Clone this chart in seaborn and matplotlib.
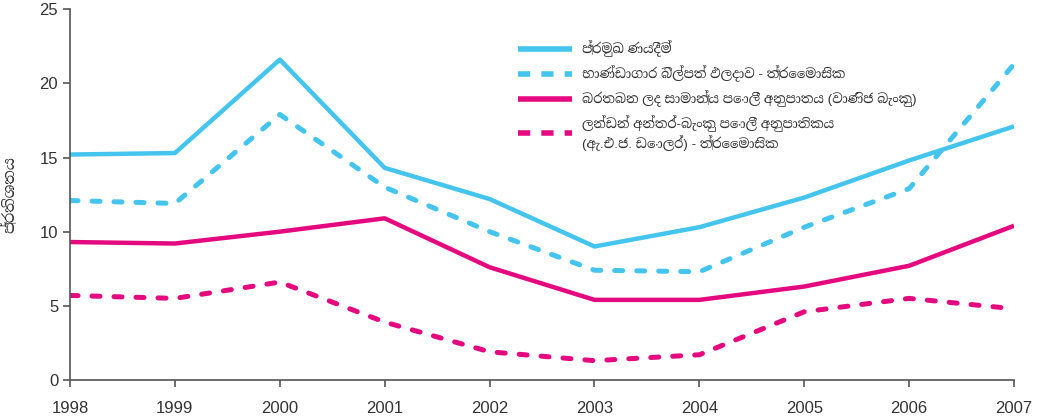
import matplotlib
matplotlib.use("Agg")
import matplotlib.pyplot as plt
import matplotlib.font_manager as fm
import pandas as pd
import seaborn as sns

# 데이터
years = [1998, 1999, 2000, 2001, 2002, 2003, 2004, 2005, 2006, 2007]
prime_lending = [15.2, 15.3, 21.6, 14.3, 12.2, 9.0, 10.3, 12.3, 14.8, 17.1]
tbill_yield = [12.1, 11.9, 17.9, 13.0, 10.0, 7.4, 7.3, 10.3, 12.9, 21.3]
awpr = [9.3, 9.2, 10.0, 10.9, 7.6, 5.4, 5.4, 6.3, 7.7, 10.4]
libor = [5.7, 5.5, 6.6, 3.9, 1.9, 1.3, 1.7, 4.6, 5.5, 4.8]

series_labels = [
    "ප්‍රමුඛ ණයදීම්",
    "භාණ්ඩාගාර බිල්පත් ඵලදාව - ත්‍රෛමාසික",
    "බරතබන ලද සාමාන්‍ය පොලී අනුපාතය (වාණිජ බැංකු)",
    "ලන්ඩන් අන්තර්-බැංකු පොලී අනුපාතිකය\n(ඇ.එ.ජ. ඩොලර්) - ත්‍රෛමාසික",
]
y_label = "ප්‍රතිශතය"

CYAN = "#45C4EE"
MAGENTA = "#E5097F"


def set_config():
    sns.set_theme(style="white")
    families = ["Liberation Sans", "DejaVu Sans"]
    # 싱할라 폰트가 있으면 사용
    for path in fm.findSystemFonts(fontpaths=None, fontext="ttf"):
        if "sinhala" in path.lower():
            try:
                name = fm.FontProperties(fname=path).get_name()
                fm.fontManager.addfont(path)
                families.insert(1, name)
                break
            except Exception:
                pass
    plt.rcParams["font.family"] = families


def style_line(line, dashed, lw=3.0, dash=(1.6, 2.8)):
    if dashed:
        line.set_linewidth(lw + 0.6)
        line.set_dashes(dash)
        line.set_dash_capstyle("butt" if dash[0] > 2 else "round")
    else:
        line.set_linewidth(lw + 0.2)


def main():
    set_config()
    df = pd.DataFrame({
        "year": years * 4,
        "value": prime_lending + tbill_yield + awpr + libor,
        "series": sum([[lab] * len(years) for lab in series_labels], []),
    })

    fig = plt.figure(figsize=(10.39, 4.18), dpi=100)
    ax = fig.add_axes([0.0674, 0.091, 0.9086, 0.887])
    sns.lineplot(
        data=df, x="year", y="value", hue="series", style="series",
        palette=[CYAN, CYAN, MAGENTA, MAGENTA],
        dashes=[(1, 0), (3, 2), (1, 0), (3, 2)],
        linewidth=3.0, ax=ax,
    )
    for i, line in enumerate(ax.get_lines()[:4]):
        style_line(line, i % 2 == 1)

    ax.set_xlim(1998, 2007)
    ax.set_ylim(0, 25)
    ax.set_xticks(years)
    ax.set_yticks([0, 5, 10, 15, 20, 25])
    ax.set_xlabel("")
    ax.set_ylabel(y_label, fontsize=11, color="#333333", labelpad=16)
    for side in ["top", "right"]:
        ax.spines[side].set_visible(False)
    for side in ["left", "bottom"]:
        ax.spines[side].set_color("#555555")
        ax.spines[side].set_linewidth(1.2)
    ax.tick_params(axis="both", which="both", direction="out", length=5,
                   width=1.2, color="#555555", labelsize=12, labelcolor="#333333",
                   left=True, bottom=True)
    ax.tick_params(axis="x", pad=10)

    leg = ax.legend(loc="upper left", bbox_to_anchor=(0.462, 0.947), frameon=False,
                    fontsize=9.6, handlelength=4.0, labelspacing=0.62, handletextpad=0.8)
    for i, line in enumerate(leg.get_lines()):
        line.set_linewidth(4.0)
        if i % 2 == 1:
            line.set_dashes((2.2, 2.0))
            line.set_dash_capstyle("butt")
    for t in leg.get_texts():
        t.set_color("#333333")

    fig.savefig("out.png", dpi=100)


if __name__ == "__main__":
    main()
